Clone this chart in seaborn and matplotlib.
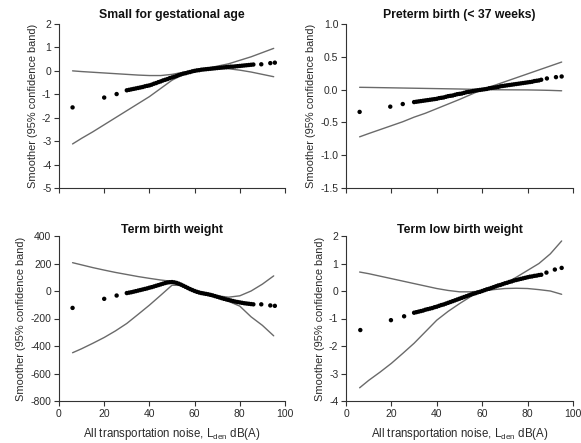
import matplotlib
matplotlib.use("Agg")
import matplotlib.pyplot as plt
import seaborn as sns
import pandas as pd

# ---------------- data ----------------
titles = ["Small for gestational age", "Preterm birth (< 37 weeks)",
          "Term birth weight", "Term low birth weight"]

dense_x = [30, 31, 32, 33, 34, 35, 36, 37, 38, 39, 40, 41, 42, 43, 44, 45, 46, 47, 48, 49,
           50, 51, 52, 53, 54, 55, 56, 57, 58, 59, 60, 61, 62, 63, 64, 65, 66, 67, 68, 69,
           70, 71, 72, 73, 74, 75, 76, 77, 78, 79, 80, 81, 82, 83, 84, 85, 86]

# Small for gestational age
sga_sparse_x = [6, 20, 25.5, 89.5, 93.5, 95.5]
sga_sparse_y = [-1.56, -1.14, -0.99, 0.28, 0.33, 0.35]
sga_dense_y = [-0.83, -0.81, -0.79, -0.77, -0.75, -0.73, -0.71, -0.69, -0.66, -0.64,
               -0.62, -0.59, -0.55, -0.52, -0.48, -0.45, -0.41, -0.38, -0.35, -0.31,
               -0.28, -0.25, -0.22, -0.18, -0.15, -0.12, -0.10, -0.07, -0.05, -0.02,
               0.00, 0.02, 0.03, 0.05, 0.06, 0.07, 0.08, 0.09, 0.10, 0.11,
               0.12, 0.13, 0.14, 0.15, 0.16, 0.17, 0.18, 0.18, 0.19, 0.20,
               0.21, 0.22, 0.23, 0.24, 0.25, 0.26, 0.27]

line_x = [6, 10, 15, 20, 25, 30, 35, 40, 45, 50, 55, 60, 65, 70, 75, 80, 85, 90, 95]
sga_band_a = [0.00, -0.03, -0.06, -0.09, -0.12, -0.15, -0.18, -0.20, -0.20, -0.15,
              -0.06, 0.00, 0.06, 0.10, 0.09, 0.03, -0.05, -0.15, -0.25]
sga_band_b = [-3.12, -2.88, -2.60, -2.30, -2.00, -1.70, -1.40, -1.10, -0.75, -0.40,
              -0.15, 0.00, 0.10, 0.20, 0.30, 0.45, 0.60, 0.78, 0.96]

# Preterm birth
pt_sparse_x = [6, 19.5, 25, 88.5, 92.5, 95]
pt_sparse_y = [-0.34, -0.26, -0.22, 0.17, 0.19, 0.20]
pt_dense_y = [-0.19, -0.185, -0.18, -0.175, -0.17, -0.165, -0.16, -0.155, -0.15, -0.145,
              -0.14, -0.13, -0.125, -0.12, -0.11, -0.10, -0.095, -0.09, -0.08, -0.07,
              -0.065, -0.06, -0.05, -0.04, -0.035, -0.03, -0.02, -0.015, -0.01, -0.005,
              0.0, 0.005, 0.01, 0.02, 0.025, 0.03, 0.035, 0.04, 0.05, 0.055,
              0.06, 0.065, 0.07, 0.075, 0.08, 0.085, 0.09, 0.095, 0.10, 0.105,
              0.11, 0.115, 0.12, 0.13, 0.135, 0.14, 0.15]
pt_band_a = [0.035, 0.033, 0.03, 0.027, 0.024, 0.021, 0.018, 0.015, 0.012, 0.009,
             0.005, 0.0, -0.002, -0.003, -0.004, -0.005, -0.008, -0.012, -0.018]
pt_band_b = [-0.72, -0.67, -0.61, -0.55, -0.49, -0.42, -0.36, -0.29, -0.22, -0.15,
             -0.075, 0.0, 0.06, 0.12, 0.18, 0.24, 0.30, 0.36, 0.42]

# Term birth weight
tbw_sparse_x = [6, 20, 25.5, 89.5, 93.5, 95.5]
tbw_sparse_y = [-123, -57, -33, -97, -105, -108]
tbw_dense_y = [-15, -12, -9, -5, -1, 3, 7, 11, 15, 19,
               24, 28, 33, 38, 43, 48, 53, 58, 62, 64,
               65, 63, 59, 53, 46, 38, 30, 22, 14, 7,
               0, -6, -11, -15, -18, -21, -24, -28, -32, -37,
               -42, -47, -52, -57, -61, -65, -69, -73, -77, -80,
               -83, -86, -89, -91, -93, -95, -97]
tbw_band_a = [206, 190, 170, 152, 135, 120, 105, 92, 80, 70,
              45, 5, -15, -35, -45, -35, 0, 50, 110]
tbw_band_b = [-449, -420, -380, -338, -290, -236, -170, -103, -31, 42,
              40, 0, -25, -45, -75, -110, -188, -250, -326]

# Term low birth weight
lbw_sparse_x = [6.3, 19.8, 25.6, 88.3, 92, 95]
lbw_sparse_y = [-1.42, -1.06, -0.92, 0.67, 0.78, 0.84]
lbw_dense_y = [-0.79, -0.77, -0.75, -0.73, -0.71, -0.68, -0.66, -0.64, -0.62, -0.59,
               -0.57, -0.54, -0.51, -0.49, -0.46, -0.43, -0.40, -0.37, -0.34, -0.31,
               -0.28, -0.25, -0.22, -0.19, -0.16, -0.13, -0.10, -0.08, -0.05, -0.03,
               0.00, 0.03, 0.06, 0.08, 0.11, 0.14, 0.17, 0.20, 0.22, 0.25,
               0.28, 0.30, 0.33, 0.35, 0.38, 0.40, 0.42, 0.44, 0.46, 0.48,
               0.50, 0.52, 0.53, 0.55, 0.56, 0.58, 0.59]
lbw_band_a = [0.69, 0.63, 0.54, 0.45, 0.36, 0.27, 0.18, 0.09, 0.02, -0.03,
              -0.03, 0.00, 0.05, 0.09, 0.10, 0.09, 0.05, 0.00, -0.12]
lbw_band_b = [-3.52, -3.25, -2.95, -2.63, -2.27, -1.90, -1.48, -1.06, -0.74, -0.46,
              -0.20, 0.00, 0.13, 0.27, 0.50, 0.75, 1.00, 1.35, 1.82]

ylims = [(-5, 2), (-1.5, 1.0), (-800, 400), (-4, 2)]
yticks = [[-5, -4, -3, -2, -1, 0, 1, 2],
          [-1.5, -1.0, -0.5, 0.0, 0.5, 1.0],
          [-800, -600, -400, -200, 0, 200, 400],
          [-4, -3, -2, -1, 0, 1, 2]]
ytick_labels = [["-5", "-4", "-3", "-2", "-1", "0", "1", "2"],
                ["-1.5", "-1.0", "-0.5", "0.0", "0.5", "1.0"],
                ["-800", "-600", "-400", "-200", "0", "200", "400"],
                ["-4", "-3", "-2", "-1", "0", "1", "2"]]
xticks = [0, 20, 40, 60, 80, 100]

panels = [
    (sga_sparse_x, sga_sparse_y, sga_dense_y, sga_band_a, sga_band_b),
    (pt_sparse_x, pt_sparse_y, pt_dense_y, pt_band_a, pt_band_b),
    (tbw_sparse_x, tbw_sparse_y, tbw_dense_y, tbw_band_a, tbw_band_b),
    (lbw_sparse_x, lbw_sparse_y, lbw_dense_y, lbw_band_a, lbw_band_b),
]

# ---------------- style ----------------
sns.set_style("ticks")
plt.rcParams['font.family'] = ['Liberation Sans', 'DejaVu Sans']
plt.rcParams['mathtext.fontset'] = 'custom'
plt.rcParams['mathtext.rm'] = 'Liberation Sans'
plt.rcParams['mathtext.it'] = 'Liberation Sans:italic'
plt.rcParams['mathtext.bf'] = 'Liberation Sans:bold'

TXT = "#2a2a2a"
W, H = 581, 443
fig = plt.figure(figsize=(W / 100, H / 100), dpi=100)

boxes = [(59, 24, 285, 188), (346, 24, 573, 188),
         (59, 236, 285, 401), (346, 236, 573, 401)]

for i, (box, pan) in enumerate(zip(boxes, panels)):
    x0, y0, x1, y1 = box
    ax = fig.add_axes([x0 / W, 1 - y1 / H, (x1 - x0) / W, (y1 - y0) / H])
    sx, sy, dy, ba, bb = pan
    dots = pd.DataFrame({"x": list(sx[:3]) + dense_x + list(sx[3:]),
                         "y": list(sy[:3]) + dy + list(sy[3:])})
    bands = pd.DataFrame({"x": line_x, "a": ba, "b": bb})
    sns.lineplot(data=bands, x="x", y="a", ax=ax, color="#6a6a6a", lw=1.0,
                 estimator=None, sort=False)
    sns.lineplot(data=bands, x="x", y="b", ax=ax, color="#6a6a6a", lw=1.0,
                 estimator=None, sort=False)
    sns.scatterplot(data=dots, x="x", y="y", ax=ax, color="black", s=10,
                    edgecolor="none", linewidth=0, zorder=5)
    ax.set_xlim(0, 100)
    ax.set_ylim(*ylims[i])
    ax.set_yticks(yticks[i])
    ax.set_yticklabels(ytick_labels[i])
    ax.set_xticks(xticks)
    sns.despine(ax=ax)
    for sp in ax.spines.values():
        sp.set_linewidth(0.8)
        sp.set_color("#333333")
    ax.tick_params(axis="both", direction="out", length=3.5, width=0.8,
                   colors="#333333", labelsize=7.5, labelcolor=TXT, pad=2)
    if i < 2:
        ax.set_xticklabels([])
        ax.set_xlabel("")
        ax.set_title(titles[i], fontsize=8.8, fontweight="bold", color="#111111", pad=4)
    else:
        ax.set_xticklabels([str(t) for t in xticks])
        ax.set_xlabel(r"All transportation noise, L$_{\mathrm{den}}$ dB(A)",
                      fontsize=8.3, color=TXT, labelpad=5)
        ax.set_title(titles[i], fontsize=8.8, fontweight="bold", color="#111111", pad=2)
    ax.set_ylabel("Smoother (95% confidence band)", fontsize=7.9, color=TXT, labelpad=3)

fig.savefig("out.png", dpi=100)
